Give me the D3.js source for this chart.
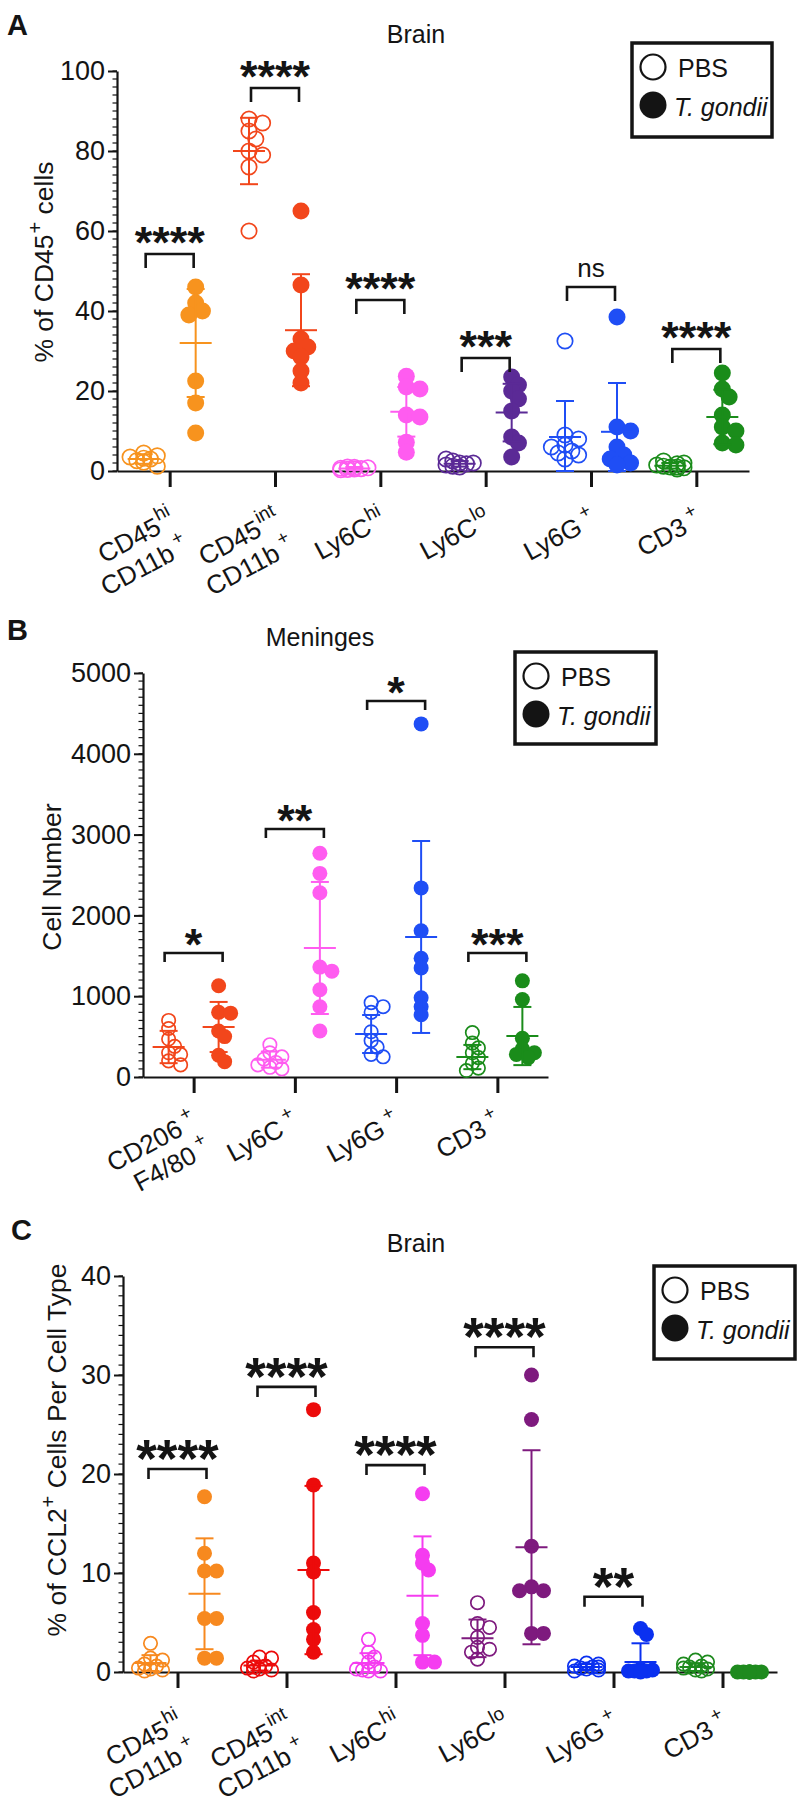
<!DOCTYPE html>
<html><head><meta charset="utf-8">
<script src="https://cdn.jsdelivr.net/npm/d3@7"></script>
<style>
body{margin:0;background:#fff}
svg{display:block;background:#fff}
</style>
</head><body>
<svg id="chart" width="800" height="1804"></svg>
<script>
// ---------------- DATA ----------------
// Panel A : Brain, % of CD45+ cells
const catsA = ["CD45^{hi}|CD11b^{+}", "CD45^{int}|CD11b^{+}", "Ly6C^{hi}", "Ly6C^{lo}", "Ly6G^{+}", "CD3^{+}"];
const colorsA = ["#F7931E", "#F2461B", "#FF5CF0", "#5B2A96", "#1F4EF5", "#1A8C1A"];
const pbsA = [
  [4.5, 3.8, 3.5, 3.0, 2.6, 2.2, 3.2, 1.2],
  [88, 87, 85, 83, 80, 79, 76, 60],
  [0.5, 0.8, 0.3, 1.0, 0.6, 0.4, 0.7, 0.9],
  [1.0, 2.0, 1.5, 2.5, 1.8, 1.2, 2.0, 3.0],
  [32.5, 9, 8, 6.5, 6, 5, 4.5, 4, 3],
  [1.0, 2.0, 1.5, 0.5, 2.5, 1.2, 0.8, 1.8, 1.0]
];
const tgA = [
  [46, 42, 40, 39, 22.5, 17, 9.5],
  [65, 46.5, 33, 31, 30, 28.5, 25, 22],
  [23.7, 21, 20.5, 14, 13.5, 7.2, 4.7],
  [23.5, 21.5, 20, 18, 15, 8.5, 7, 3.5],
  [38.5, 11, 10, 6, 4, 3, 2, 1.5],
  [24.5, 20.5, 18.5, 14, 11, 10, 7, 6.5]
];
const pbsMeanA = [3.0, 80.0, 0.6, 1.8, 8.5, 1.3];
const pbsSdA   = [1.2, 8.3, 0.4, 0.7, 9.0, 0.7];
const tgMeanA  = [32.0, 35.2, 14.8, 14.6, 9.8, 13.5];
const tgSdA    = [13.5, 14.0, 6.2, 7.2, 12.2, 6.8];
const sigA      = ["****", "****", "****", "***", "ns", "****"];
const sigLevelA = [54.25, 95.75, 42.75, 28.25, 46, 30.5];
const yTicksA = [0, 20, 40, 60, 80, 100];

// Panel B : Meninges, cell number
const catsB = ["CD206^{+}|F4/80^{+}", "Ly6C^{+}", "Ly6G^{+}", "CD3^{+}"];
const colorsB = ["#F2461B", "#FF5CF0", "#1F4EF5", "#1A8C1A"];
const pbsB = [
  [700, 600, 470, 380, 300, 280, 200, 150],
  [400, 300, 250, 220, 180, 150, 120, 100],
  [920, 870, 800, 560, 450, 370, 280, 250],
  [550, 420, 360, 300, 240, 170, 110, 80]
];
const tgB = [
  [1130, 800, 790, 570, 500, 270, 190],
  [2770, 2520, 2280, 1360, 1310, 1080, 870, 570],
  [4370, 2340, 1810, 1470, 1350, 980, 870, 770],
  [1190, 960, 480, 350, 300, 280, 240]
];
const pbsMeanB = [371, 215, 532, 247];
const pbsSdB   = [200, 100, 235, 150];
const tgMeanB  = [619, 1597, 1733, 507];
const tgSdB    = [310, 817, 1188, 360];
const sigB      = ["*", "**", "*", "***"];
const sigLevelB = [1535, 3069, 4653, 1535];
const yTicksB = [0, 1000, 2000, 3000, 4000, 5000];

// Panel C : Brain, % of CCL2+ cells per cell type
const catsC = ["CD45^{hi}|CD11b^{+}", "CD45^{int}|CD11b^{+}", "Ly6C^{hi}", "Ly6C^{lo}", "Ly6G^{+}", "CD3^{+}"];
const colorsC = ["#F7891F", "#EC0B0B", "#F53CF0", "#7E1A7E", "#0A30F0", "#1E8A1E"];
const pbsC = [
  [2.9, 1.4, 1.2, 0.8, 0.6, 0.4, 0.3, 0.2, 0.1],
  [1.5, 1.4, 1.0, 0.6, 0.4, 0.3, 0.2, 0.1, 0.5],
  [3.3, 2.0, 1.5, 1.0, 0.5, 0.2, 0.1, 0.1, 0.3],
  [7.0, 4.9, 4.5, 3.5, 2.5, 2.3, 2.0, 1.3],
  [0.9, 0.8, 0.6, 0.5, 0.4, 0.3, 0.2, 0.5, 0.1],
  [1.2, 1.0, 0.8, 0.6, 0.5, 0.3, 0.2, 0.4, 0.1]
];
const tgC = [
  [17.7, 12, 10.2, 10.2, 5.4, 5.4, 1.4, 1.4],
  [26.5, 18.9, 11, 10.1, 6, 4.3, 3.3, 2],
  [18, 11.8, 11, 10.3, 4.9, 3.7, 1, 1],
  [30, 25.5, 12.7, 8.6, 8.2, 8.2, 3.9, 3.9],
  [4.4, 3.8, 0.3, 0.2, 0.1, 0.1, 0.1, 0.0],
  [0, 0, 0, 0, 0, 0, 0, 0]
];
const pbsMeanC = [0.9, 0.65, 0.9, 3.4, 0.5, 0.5];
const pbsSdC   = [0.8, 0.5, 1.0, 1.9, 0.3, 0.4];
const tgMeanC  = [7.9, 10.3, 7.7, 12.6, 1.0, 0.0];
const tgSdC    = [5.6, 8.5, 6.0, 9.8, 1.9, 0.0];
const sigC      = ["****", "****", "****", "****", "**", ""];
const sigLevelC = [20.5, 28.8, 20.9, 32.8, 7.6, null];
const yTicksC = [0, 10, 20, 30, 40];

const legendLabels = ["PBS", "T. gondii"];

// ---------------- DRAWING ----------------
const FONT = '"Liberation Sans", Arial, Helvetica, sans-serif';
const INK = "#141414";
const svg = d3.select("#chart");

function richText(sel, str, supFs, rise, supDx) {
  const parts = str.split(/\^\{([^}]*)\}/);
  let raised = false;
  parts.forEach((p, i) => {
    if (i % 2 === 0) {
      if (p === "") return;
      const t = sel.append("tspan").text(p);
      if (raised) { t.attr("dy", rise); raised = false; }
    } else {
      sel.append("tspan").attr("font-size", supFs).attr("dy", -rise)
        .attr("dx", p === "+" ? supDx : 1).text(p);
      raised = true;
    }
  });
}

function dodge(vals, y, r) {
  const s = r * 0.8, minD = r * 1.0;
  const cands = [0, s, -s, 2 * s, -2 * s];
  const placed = [];
  vals.forEach(v => {
    const py = y(v);
    let best = null, bestScore = -1;
    for (const c of cands) {
      let md = Infinity;
      for (const p of placed) md = Math.min(md, Math.hypot(p.dx - c, p.py - py));
      if (md >= minD) { best = c; bestScore = Infinity; break; }
      if (md > bestScore) { bestScore = md; best = c; }
    }
    placed.push({ v, dx: best, py });
  });
  return placed;
}

function panel(o) {
  const g = svg.append("g").attr("font-family", FONT);
  const n = o.cats.length;
  const x = d3.scalePoint().domain(d3.range(n)).range([o.x0, o.x1]).padding(0.5);
  const y = d3.scaleLinear().domain([0, o.ymax]).range([o.yb, o.yt]);

  // panel letter and title
  g.append("text").attr("x", o.letterX).attr("y", o.letterY).attr("font-size", 29)
    .attr("font-weight", "bold").attr("fill", INK).text(o.letter);
  g.append("text").attr("x", o.titleX).attr("y", o.titleY).attr("font-size", 25)
    .attr("text-anchor", "middle").attr("fill", INK).text(o.title);

  // minor ticks
  g.append("g").selectAll("line").data(d3.range(0, o.ymax + 1e-9, o.minor)).join("line")
    .attr("x1", o.x0 - 4.5).attr("x2", o.x0).attr("y1", d => y(d)).attr("y2", d => y(d))
    .attr("stroke", INK).attr("stroke-width", 1.2);

  // y axis
  const ga = g.append("g").attr("transform", `translate(${o.x0},0)`)
    .call(d3.axisLeft(y).tickValues(o.yticks).tickSize(9).tickSizeOuter(0).tickFormat(d3.format("d")));
  ga.attr("font-family", FONT).attr("font-size", 27).style("color", INK);
  ga.select(".domain").attr("stroke-width", 2.2);
  ga.selectAll(".tick line").attr("stroke-width", 2);
  ga.selectAll(".tick text").attr("x", -12).attr("fill", INK);

  // x axis
  const gx = g.append("g").attr("transform", `translate(0,${o.yb})`)
    .call(d3.axisBottom(x).tickSize(16).tickSizeOuter(0).tickFormat(""));
  gx.style("color", INK);
  gx.select(".domain").attr("stroke-width", 2.2);
  gx.selectAll(".tick line").attr("stroke-width", 3);

  // x labels
  o.cats.forEach((lab, i) => {
    const gl = g.append("g").attr("transform", `translate(${x(i) + o.lx},${o.yb + o.ly}) rotate(-28)`);
    lab.split("|").forEach((ln, k) => {
      const t = gl.append("text").attr("x", 0).attr("y", k * 30).attr("text-anchor", "end")
        .attr("font-size", 26).attr("fill", INK);
      richText(t, ln, 19, 12, 5);
    });
  });

  // y label
  const yl = g.append("text").attr("transform", `translate(${o.ylX},${o.ylY}) rotate(-90)`)
    .attr("text-anchor", "middle").attr("font-size", 26.5).attr("fill", INK);
  richText(yl, o.ylabel, 20, 11, 1);

  // points
  const groups = [
    { vals: o.pbs, mean: o.pbsMean, sd: o.pbsSd, side: -1, open: true },
    { vals: o.tg, mean: o.tgMean, sd: o.tgSd, side: 1, open: false }
  ];
  groups.forEach(gr => {
    gr.vals.forEach((vals, i) => {
      const cx = x(i) + gr.side * o.off;
      const col = o.colors[i];
      const pts = dodge(vals, y, o.r);
      g.append("g").selectAll("circle").data(pts).join("circle")
        .attr("cx", d => cx + d.dx).attr("cy", d => d.py)
        .attr("r", gr.open ? o.r - 0.8 : o.r)
        .attr("fill", gr.open ? "none" : col)
        .attr("stroke", col).attr("stroke-width", gr.open ? 1.7 : 0);
      // error bars
      const m = gr.mean[i], s = gr.sd[i];
      const lo = Math.max(0, m - s), hi = m + s;
      const eg = g.append("g").attr("stroke", col).attr("stroke-width", 2);
      eg.append("line").attr("x1", cx).attr("x2", cx).attr("y1", y(lo)).attr("y2", y(hi));
      eg.append("line").attr("x1", cx - o.meanW).attr("x2", cx + o.meanW).attr("y1", y(m)).attr("y2", y(m));
      [lo, hi].forEach(v => eg.append("line").attr("x1", cx - o.capW).attr("x2", cx + o.capW)
        .attr("y1", y(v)).attr("y2", y(v)));
    });
  });

  // significance brackets
  o.sig.forEach((lab, i) => {
    const lv = o.sigLevel[i];
    if (!lab || lv == null) return;
    const by = y(lv), xa = x(i) - o.bw, xb = x(i) + o.bw;
    g.append("path").attr("d", `M${xa},${by + o.drop}V${by}H${xb}V${by + o.drop}`)
      .attr("fill", "none").attr("stroke", INK).attr("stroke-width", 2.6);
    if (lab === "ns") {
      g.append("text").attr("x", x(i)).attr("y", by - 10).attr("text-anchor", "middle")
        .attr("font-size", 26).attr("fill", INK).text(lab);
    } else {
      g.append("text").attr("x", x(i)).attr("y", by - o.gap + 0.55 * o.sigFs).attr("text-anchor", "middle")
        .attr("font-size", o.sigFs).attr("font-weight", "bold").attr("fill", INK).text(lab);
    }
  });

  // legend
  const L = o.legend;
  const lg = g.append("g").attr("transform", `translate(${L[0]},${L[1]})`);
  lg.append("rect").attr("width", L[2]).attr("height", L[3]).attr("fill", "white")
    .attr("stroke", INK).attr("stroke-width", 3.5);
  lg.append("circle").attr("cx", 21).attr("cy", 24).attr("r", 12.5).attr("fill", "none")
    .attr("stroke", INK).attr("stroke-width", 2.2);
  lg.append("circle").attr("cx", 21).attr("cy", 62).attr("r", 13.5).attr("fill", INK);
  lg.append("text").attr("x", 46).attr("y", 34).attr("font-size", 25).attr("fill", INK).text(legendLabels[0]);
  lg.append("text").attr("x", 42).attr("y", 73).attr("font-size", 25).attr("font-style", "italic")
    .attr("fill", INK).text(legendLabels[1]);
}

panel({
  letter: "A", letterX: 7, letterY: 35, title: "Brain", titleX: 416, titleY: 43,
  cats: catsA, colors: colorsA, pbs: pbsA, tg: tgA,
  pbsMean: pbsMeanA, pbsSd: pbsSdA, tgMean: tgMeanA, tgSd: tgSdA,
  sig: sigA, sigLevel: sigLevelA, yticks: yTicksA,
  x0: 117, x1: 749, yb: 471, yt: 71, ymax: 100, minor: 2,
  off: 26, r: 8.5, meanW: 16, capW: 9, bw: 24, drop: 14, gap: 21, sigFs: 45,
  lx: 7, ly: 54, ylabel: "% of CD45^{+} cells", ylX: 53, ylY: 262,
  legend: [632, 43, 140, 94]
});
panel({
  letter: "B", letterX: 7, letterY: 640, title: "Meninges", titleX: 320, titleY: 646,
  cats: catsB, colors: colorsB, pbs: pbsB, tg: tgB,
  pbsMean: pbsMeanB, pbsSd: pbsSdB, tgMean: tgMeanB, tgSd: tgSdB,
  sig: sigB, sigLevel: sigLevelB, yticks: yTicksB,
  x0: 143, x1: 548, yb: 1077, yt: 673, ymax: 5000, minor: 100,
  off: 25, r: 7.5, meanW: 16, capW: 9, bw: 29, drop: 9, gap: 18, sigFs: 45,
  lx: 5, ly: 50, ylabel: "Cell Number", ylX: 61, ylY: 877,
  legend: [515, 652, 141, 92]
});
panel({
  letter: "C", letterX: 11, letterY: 1240, title: "Brain", titleX: 416, titleY: 1252,
  cats: catsC, colors: colorsC, pbs: pbsC, tg: tgC,
  pbsMean: pbsMeanC, pbsSd: pbsSdC, tgMean: tgMeanC, tgSd: tgSdC,
  sig: sigC, sigLevel: sigLevelC, yticks: yTicksC,
  x0: 123, x1: 777, yb: 1672, yt: 1276, ymax: 40, minor: 1,
  off: 27, r: 7.5, meanW: 16, capW: 9, bw: 29, drop: 10, gap: 21, sigFs: 53,
  lx: 7, ly: 56, ylabel: "% of CCL2^{+} Cells Per Cell Type", ylX: 66, ylY: 1450,
  legend: [654, 1266, 141, 93]
});
</script>
</body></html>
